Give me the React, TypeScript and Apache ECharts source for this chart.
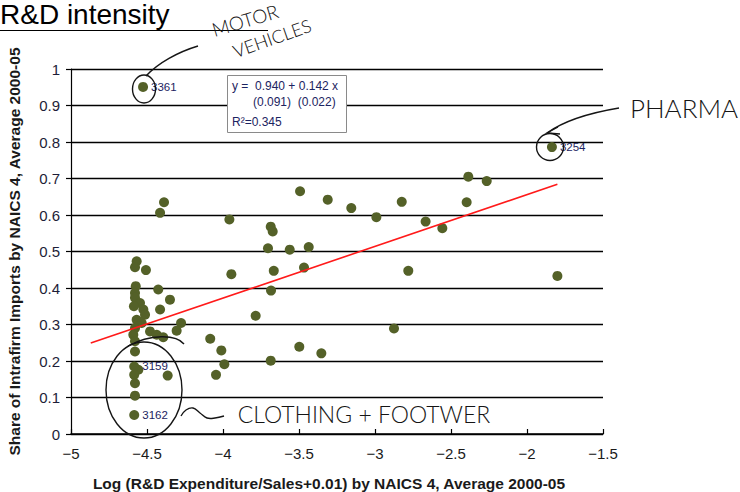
import React, { useEffect, useRef } from 'react';
import * as echarts from 'echarts';

// Industries (NAICS 4): x = log(R&D/Sales + 0.01), y = intrafirm import share
const industryX = [
  -4.388, -4.414, -4.568, -4.579, -4.507, -4.574, -4.426, -4.579, -4.349, -4.579,
  -4.546, -4.586, -4.524, -4.414, -4.513, -4.568, -4.276, -4.535, -4.305, -4.579,
  -4.480, -4.590, -4.436, -4.393, -4.579, -4.579, -4.557, -4.584, -4.579, -4.579,
  -4.364, -4.084, -4.011, -3.991, -4.046, -3.958, -3.945, -3.785, -3.686, -3.673,
  -3.704, -3.666, -3.684, -3.686, -3.561, -3.436, -3.467, -3.493, -3.498, -3.353,
  -3.311, -3.156, -2.991, -2.875, -2.824, -2.781, -2.667, -2.557, -2.397, -2.386,
  -2.265, -1.800,
];
const industryY = [
  0.635, 0.606, 0.473, 0.457, 0.449, 0.405, 0.396, 0.386, 0.368, 0.373,
  0.359, 0.350, 0.341, 0.341, 0.327, 0.313, 0.304, 0.304, 0.283, 0.290,
  0.281, 0.272, 0.272, 0.265, 0.254, 0.226, 0.176, 0.162, 0.139, 0.105,
  0.160, 0.261, 0.229, 0.191, 0.162, 0.588, 0.438, 0.324, 0.568, 0.555,
  0.509, 0.447, 0.393, 0.201, 0.505, 0.512, 0.456, 0.665, 0.239, 0.221,
  0.642, 0.619, 0.594, 0.289, 0.636, 0.447, 0.582, 0.564, 0.635, 0.705,
  0.693, 0.433,
];

// Labelled industries
const labeledCodes = ['3361', '3254', '3159', '3162'];
const labeledX = [-4.526, -1.836, -4.584, -4.584];
const labeledY = [0.951, 0.786, 0.185, 0.052];

// Fitted line end points
const fitX = [-4.87, -1.8];
const fitY = [0.249, 0.684];

// Texts
const titleText = 'R&D intensity';
const xAxisTitle = 'Log (R&D Expenditure/Sales+0.01) by NAICS 4, Average 2000-05';
const yAxisTitle = 'Share of Intrafirm Imports by NAICS 4, Average 2000-05';
const equationLines = ['y =  0.940 + 0.142 x', '(0.091)  (0.022)', 'R\u00B2=0.345'];
const noteMotor = 'MOTOR';
const noteVehicles = 'VEHICLES';
const notePharma = 'PHARMA';
const noteClothing = 'CLOTHING + FOOTWER';

const FONT = "'Liberation Sans', Arial, sans-serif";
const HAND = "Lato, 'DejaVu Sans', sans-serif";
const INK = '#151515';

export default function App() {
  const ref = useRef<HTMLDivElement>(null);

  useEffect(() => {
    if (!ref.current) return;
    const chart = echarts.init(ref.current, null, { renderer: 'svg' });

    const pts = industryX.map((x, i) => [x, industryY[i]]);
    const labeled = labeledX.map((x, i) => ({
      value: [x, labeledY[i]],
      name: labeledCodes[i],
    }));
    const fit = fitX.map((x, i) => [x, fitY[i]]);

    const handText = (text: string, x: number, y: number, size: number, rot: number) => ({
      type: 'text',
      x,
      y,
      rotation: rot,
      z: 100,
      style: {
        text,
        font: `300 ${size}px ${HAND}`,
        fill: INK,
        align: 'center',
        verticalAlign: 'middle',
        textAlign: 'center',
        textVerticalAlign: 'middle',
      },
    });

    const stroke = { stroke: INK, lineWidth: 1.4, fill: 'none' };

    chart.setOption({
      animation: false,
      textStyle: { fontFamily: FONT },
      grid: { left: 71, right: 137, top: 69, bottom: 58, containLabel: false, outerBoundsMode: 'none' },
      xAxis: {
        type: 'value',
        min: -5,
        max: -1.5,
        interval: 0.5,
        name: xAxisTitle,
        nameLocation: 'middle',
        nameGap: 41,
        nameTextStyle: { fontSize: 15.5, fontWeight: 'bold', color: '#1a1a1a', fontFamily: FONT, padding: [0, 16, 0, 0] },
        axisLine: { show: true, onZero: false, lineStyle: { color: '#000', width: 1.5 } },
        axisTick: { show: true, inside: true, length: 5, lineStyle: { color: '#000', width: 1.2 } },
        axisLabel: {
          fontSize: 15,
          color: '#1a1a1a',
          margin: 12,
          formatter: (v: number) => (v < 0 ? '\u2212' + String(Math.abs(v)) : String(v)),
        },
        splitLine: { show: false },
      },
      yAxis: {
        type: 'value',
        min: 0,
        max: 1,
        interval: 0.1,
        name: yAxisTitle,
        nameLocation: 'middle',
        nameRotate: 90,
        nameGap: 49,
        nameTextStyle: { fontSize: 15.5, fontWeight: 'bold', color: '#1a1a1a', fontFamily: FONT },
        axisLine: { show: true, lineStyle: { color: '#000', width: 1.2 } },
        axisTick: { show: true, inside: false, length: 5, lineStyle: { color: '#000', width: 1.2 } },
        axisLabel: {
          fontSize: 15,
          color: '#1e1e38',
          margin: 11,
          formatter: (v: number) => String(Math.round(v * 10) / 10),
        },
        splitLine: { show: true, lineStyle: { color: '#000', width: 1.4 } },
      },
      series: [
        {
          type: 'scatter',
          name: 'industries',
          data: pts,
          symbol: 'circle',
          symbolSize: 10,
          itemStyle: { color: '#546128', opacity: 1 },
          z: 2,
        },
        {
          type: 'scatter',
          name: 'labeled',
          data: labeled,
          symbol: 'circle',
          symbolSize: 10,
          itemStyle: { color: '#546128', opacity: 1 },
          label: {
            show: true,
            position: 'right',
            distance: 3,
            formatter: (p: any) => p.name,
            fontSize: 11.5,
            color: '#1c2461',
            fontFamily: FONT,
          },
          z: 2,
        },
        {
          type: 'line',
          name: 'fit',
          data: fit,
          symbol: 'none',
          lineStyle: { color: '#ff1a1a', width: 1.6 },
          z: 3,
        },
      ],
      graphic: [
        {
          type: 'text',
          x: 0,
          y: 14,
          style: {
            text: titleText,
            font: `28px ${FONT}`,
            fill: '#000',
            verticalAlign: 'middle',
            textVerticalAlign: 'middle',
          },
        },
        { type: 'line', shape: { x1: 0, y1: 30.5, x2: 268, y2: 30.5 }, style: { stroke: '#000', lineWidth: 1 } },
        // regression box
        {
          type: 'rect',
          shape: { x: 227.5, y: 75.5, width: 119, height: 57 },
          style: { fill: '#fff', stroke: '#8a8a8a', lineWidth: 1 },
          z: 50,
        },
        {
          type: 'text',
          x: 232,
          y: 86,
          z: 51,
          style: { text: equationLines[0], font: `12px ${FONT}`, fill: '#1c2461', verticalAlign: 'middle', textVerticalAlign: 'middle' },
        },
        {
          type: 'text',
          x: 253,
          y: 102,
          z: 51,
          style: { text: equationLines[1], font: `12px ${FONT}`, fill: '#1c2461', verticalAlign: 'middle', textVerticalAlign: 'middle' },
        },
        {
          type: 'text',
          x: 232,
          y: 122,
          z: 51,
          style: { text: equationLines[2], font: `12px ${FONT}`, fill: '#1c2461', verticalAlign: 'middle', textVerticalAlign: 'middle' },
        },
        // handwritten notes
        handText(noteMotor, 245, 20, 19, 0.29),
        handText(noteVehicles, 272, 38, 18, 0.34),
        { type: 'bezierCurve', z: 100, shape: { x1: 198, y1: 46, cpx1: 178, cpy1: 52, cpx2: 158, cpy2: 63, x2: 146, y2: 76 }, style: stroke },
        { type: 'ellipse', z: 100, shape: { cx: 144, cy: 89, rx: 11.5, ry: 14 }, style: stroke },
        handText(notePharma, 684, 108, 26, 0),
        { type: 'bezierCurve', z: 100, shape: { x1: 619, y1: 108, cpx1: 595, cpy1: 112, cpx2: 565, cpy2: 120, x2: 547, y2: 133 }, style: stroke },
        { type: 'polyline', z: 100, shape: { points: [[558, 127], [547, 133], [560, 134]] }, style: stroke },
        { type: 'ellipse', z: 100, shape: { cx: 550, cy: 147, rx: 13.5, ry: 13.5 }, style: stroke },
        { type: 'ellipse', z: 100, shape: { cx: 144, cy: 390, rx: 38, ry: 48 }, style: stroke },
        { type: 'bezierCurve', z: 100, shape: { x1: 128, y1: 346, cpx1: 150, cpy1: 334, cpx2: 176, cpy2: 334, x2: 184, y2: 344 }, style: stroke },
        {
          type: 'polyline',
          z: 100,
          shape: { points: [[181, 416], [186, 410], [193, 408], [200, 413], [207, 418], [215, 418], [224, 416]], smooth: 0.4 },
          style: stroke,
        },
        handText(noteClothing, 364, 414, 23, 0),
      ],
    });

    return () => chart.dispose();
  }, []);

  return (
    <div
      ref={ref}
      style={{ position: 'absolute', left: 0, top: 0, width: 740, height: 492, background: '#fff' }}
    />
  );
}
